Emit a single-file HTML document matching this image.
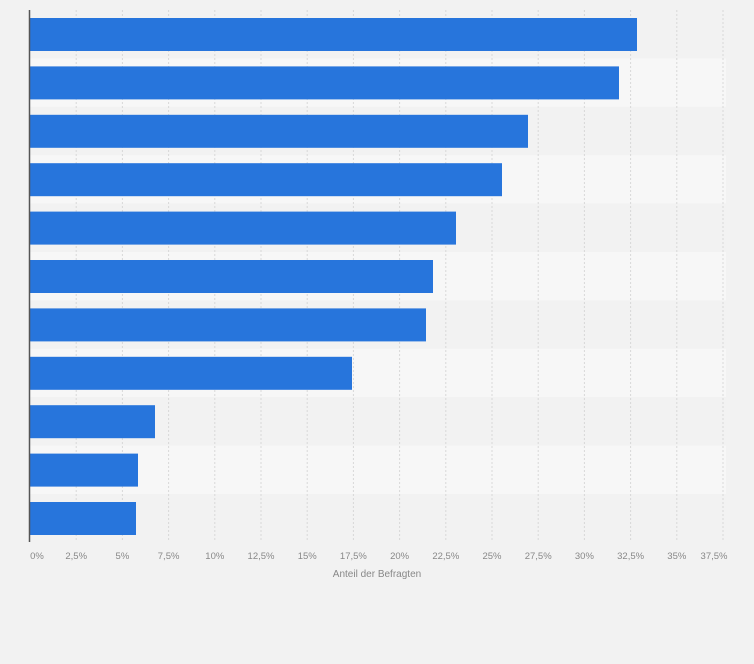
<!DOCTYPE html>
<html><head><meta charset="utf-8"><style>
body{margin:0;width:754px;height:659px;background:#f2f2f2;font-family:"Liberation Sans",sans-serif;overflow:hidden}
</style></head><body>
<svg width="754" height="659" xmlns="http://www.w3.org/2000/svg">
<g id="bands"></g>
<g id="grid" stroke="#d8d8d8" stroke-dasharray="2,2" stroke-width="1"></g>
<g id="bars" fill="#2775dc"></g>
<line x1="29.5" y1="10" x2="29.5" y2="542" stroke="#555" stroke-width="1.5"/>
<g id="labels" fill="#888" font-size="9.5" text-anchor="middle"></g>
<text x="377" y="577" fill="#888" font-size="10" text-anchor="middle">Anteil der Befragten</text>
</svg>
<script>
var ns="http://www.w3.org/2000/svg";
function el(t,a,p){var e=document.createElementNS(ns,t);for(var k in a)e.setAttribute(k,a[k]);document.getElementById(p).appendChild(e);return e;}
var rh=48.4,top0=10;
for(var i=0;i<11;i++){el("rect",{x:30,y:top0+i*rh,width:696,height:rh,fill:i%2?"#f7f7f7":"#f2f2f2"},"bands");}
var labs=["0%","2,5%","5%","7,5%","10%","12,5%","15%","17,5%","20%","22,5%","25%","27,5%","30%","32,5%","35%","37,5%"];
for(var i=0;i<16;i++){var x=30+i*46.2;if(i>0)el("line",{x1:x,y1:10,x2:x,y2:542},"grid");
var t=el("text",{x:x+(i==0?7:0)+(i==15?-9:0),y:559},"labels");t.textContent=labs[i];}
var ends=[637,619,528,502,456,433,426,352,155,138,136];
for(var i=0;i<11;i++){el("rect",{x:30,y:top0+i*rh+8,width:ends[i]-30,height:33},"bars");}
</script>
</body></html>
